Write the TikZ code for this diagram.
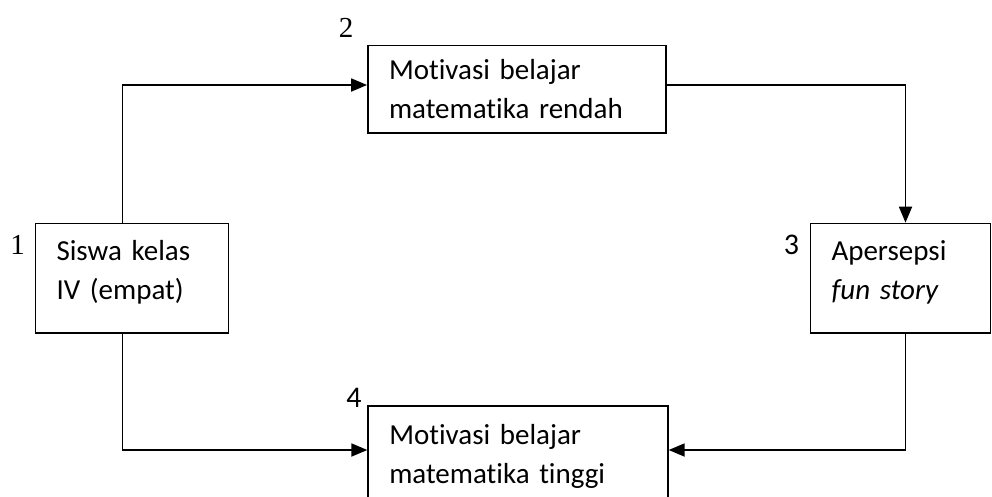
\documentclass[tikz,border=0pt]{standalone}
\usepackage{fontspec}
\setmainfont{Carlito}[Ligatures=NoCommon]
\newfontfamily\numfont{Liberation Serif}
\usetikzlibrary{arrows.meta}
% invisible rule that deepens the last line, lifting the text block a little
\newcommand{\liftby}[1]{\rule[-#1]{0pt}{0pt}}
\begin{document}
\begin{tikzpicture}[x=1pt, y=-1pt, line width=1.8pt,
  box/.style={draw, rectangle, align=left, inner xsep=21pt, inner ysep=0pt,
              font=\fontsize{29}{39}\selectfont},
  arr/.style={-{Triangle[length=16pt,width=13pt]}},
  numserif/.style={inner sep=0pt, font=\fontsize{29}{29}\numfont},
  numsans/.style={inner sep=0pt, font=\fontsize{30}{30}\selectfont}]
\useasboundingbox (0,0) rectangle (992,496);
\clip (0,0) rectangle (992,496);

% boxes
\node[box, text width=151pt, minimum height=109.5pt] (b1) at (132,278.3) {Siswa kelas\\IV (empat)\liftby{16pt}};
\node[box, text width=256pt, minimum height=87.5pt] (b2) at (517,89.3) {Motivasi belajar\\matematika rendah};
\node[box, text width=138pt, minimum height=109.5pt] (b3) at (900.5,278.3) {Apersepsi\\\textit{fun story}\liftby{16pt}};
\node[box, text width=257.5pt, minimum height=100pt] (b4) at (518,456) {Motivasi belajar\\matematika tinggi};

% step numbers
\node[numserif] (n1) at (17.5,245) {1};
\node[numserif] (n2) at (346,27.5) {2};
\node[numsans] (n3) at (791.5,245) {3};
\node[numsans] (n4) at (354,398) {4};

% connectors
\draw[arr] ([xshift=-9.5pt]b1.north) |- ([yshift=4.3pt]b2.west);
\draw[arr] ([yshift=4.3pt]b2.east) -| ([xshift=5pt]b3.north);
\draw[arr] ([xshift=5pt]b3.south) |- ([yshift=6pt]b4.east);
\draw[arr] ([xshift=-9.5pt]b1.south) |- ([yshift=6pt]b4.west);
\end{tikzpicture}
\end{document}
